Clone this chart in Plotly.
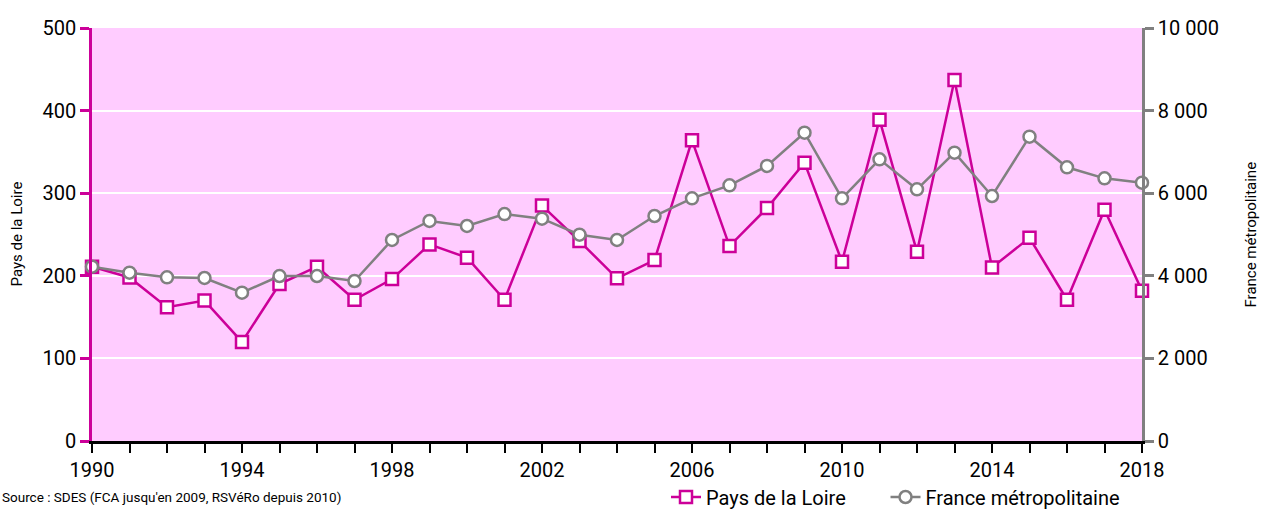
import plotly.graph_objects as go

years = list(range(1990, 2019))
pays_de_la_loire = [211, 198, 162, 170, 120, 190, 211, 171, 196, 238, 222, 171, 285, 242,
                    197, 219, 364, 236, 282, 337, 217, 389, 229, 437, 210, 246, 171, 280, 182]
france_metro = [4220, 4075, 3964, 3947, 3591, 3995, 3995, 3874, 4867, 5327, 5206, 5496, 5383,
                4995, 4867, 5448, 5876, 6191, 6659, 7465, 5876, 6820, 6094, 6981, 5932, 7369,
                6627, 6360, 6255]
x_tick_vals = list(range(1990, 2019, 4))

MAG = "#CC0099"
GRAY = "#808080"
BG = "#FFCCFF"
FONT = "Roboto, Liberation Sans, sans-serif"

L, R, T, B = 92, 121, 28, 79
W, H = 1263, 520
PW = W - L - R
PH = H - T - B
GAP = "\u00a0" * 7

fig = go.Figure()
fig.add_trace(go.Scatter(
    x=years, y=pays_de_la_loire, name="Pays de la Loire" + GAP, mode="lines+markers",
    line=dict(color=MAG, width=2.5),
    marker=dict(symbol="square", size=12, color="white", line=dict(color=MAG, width=2.5)),
    cliponaxis=False, yaxis="y"))
fig.add_trace(go.Scatter(
    x=years, y=france_metro, name="France métropolitaine", mode="lines+markers",
    line=dict(color=GRAY, width=2.5),
    marker=dict(symbol="circle", size=12, color="white", line=dict(color=GRAY, width=2.5)),
    cliponaxis=False, yaxis="y2"))

fig.update_layout(
    width=W, height=H,
    margin=dict(l=L, r=R, t=T, b=B, autoexpand=False),
    paper_bgcolor="white", plot_bgcolor=BG,
    separators=", ",
    font=dict(family=FONT, size=20, color="black"),
    showlegend=True,
    legend=dict(orientation="h", x=(666 - L) / PW, xanchor="left", y=(441 - 497) / PH,
                yanchor="middle", font=dict(size=20), bgcolor="rgba(0,0,0,0)",
                tracegroupgap=0),
    xaxis=dict(range=[1990, 2018], tickvals=x_tick_vals, ticks="outside", ticklen=9,
               tickwidth=2, tickcolor="black", showline=True, linecolor="black",
               linewidth=2.5, showgrid=False, zeroline=False, automargin=False,
               minor=dict(dtick=1, tick0=1990, ticks="outside", ticklen=9, tickwidth=2,
                          tickcolor="black", showgrid=False),
               tickfont=dict(size=20)),
    xaxis2=dict(range=[1990, 2018], overlaying="x", anchor="y", side="bottom",
                tickvals=list(range(1990, 2019)), ticks="inside", ticklen=9, tickwidth=2,
                tickcolor="black", showticklabels=False, showgrid=False, zeroline=False,
                showline=False, automargin=False),
    yaxis=dict(range=[0, 500], dtick=100, ticks="outside", ticklen=9, tickwidth=2.5,
               tickcolor=MAG, showline=True, linecolor=MAG, linewidth=2.5,
               showgrid=True, gridcolor="white", gridwidth=2, zeroline=False,
               automargin=False, tickfont=dict(size=20)),
    yaxis2=dict(range=[0, 10000], dtick=2000, overlaying="y", side="right",
                tickformat=",d", ticks="outside", ticklen=9, tickwidth=2.5,
                tickcolor=GRAY, showline=True, linecolor=GRAY, linewidth=2.5,
                showgrid=False, zeroline=False, automargin=False,
                tickfont=dict(size=20)),
    yaxis3=dict(range=[0, 500], dtick=100, overlaying="y", anchor="x", side="left",
                ticks="inside", ticklen=9, tickwidth=2.5, tickcolor=MAG,
                showticklabels=False, showgrid=False, zeroline=False, showline=False,
                automargin=False),
    yaxis4=dict(range=[0, 10000], dtick=2000, overlaying="y", anchor="x", side="right",
                ticks="inside", ticklen=9, tickwidth=2.5, tickcolor=GRAY,
                showticklabels=False, showgrid=False, zeroline=False, showline=False,
                automargin=False),
    annotations=[
        dict(text="Source : SDES (FCA jusqu'en 2009, RSVéRo depuis 2010)",
             xref="paper", yref="paper", x=-L / PW, xanchor="left",
             y=(441 - 497) / PH, yanchor="middle", showarrow=False,
             font=dict(size=13.5)),
        dict(text="Pays de la Loire", xref="paper", yref="paper",
             x=(16 - L) / PW, xanchor="center", y=0.5, yanchor="middle",
             textangle=-90, showarrow=False, font=dict(size=15)),
        dict(text="France métropolitaine", xref="paper", yref="paper",
             x=(1250 - L) / PW, xanchor="center", y=0.5, yanchor="middle",
             textangle=-90, showarrow=False, font=dict(size=15)),
    ],
)

fig.write_html("out.html", config={"displayModeBar": False},
               post_script="document.body.style.margin='0';document.body.style.overflow='hidden';")
